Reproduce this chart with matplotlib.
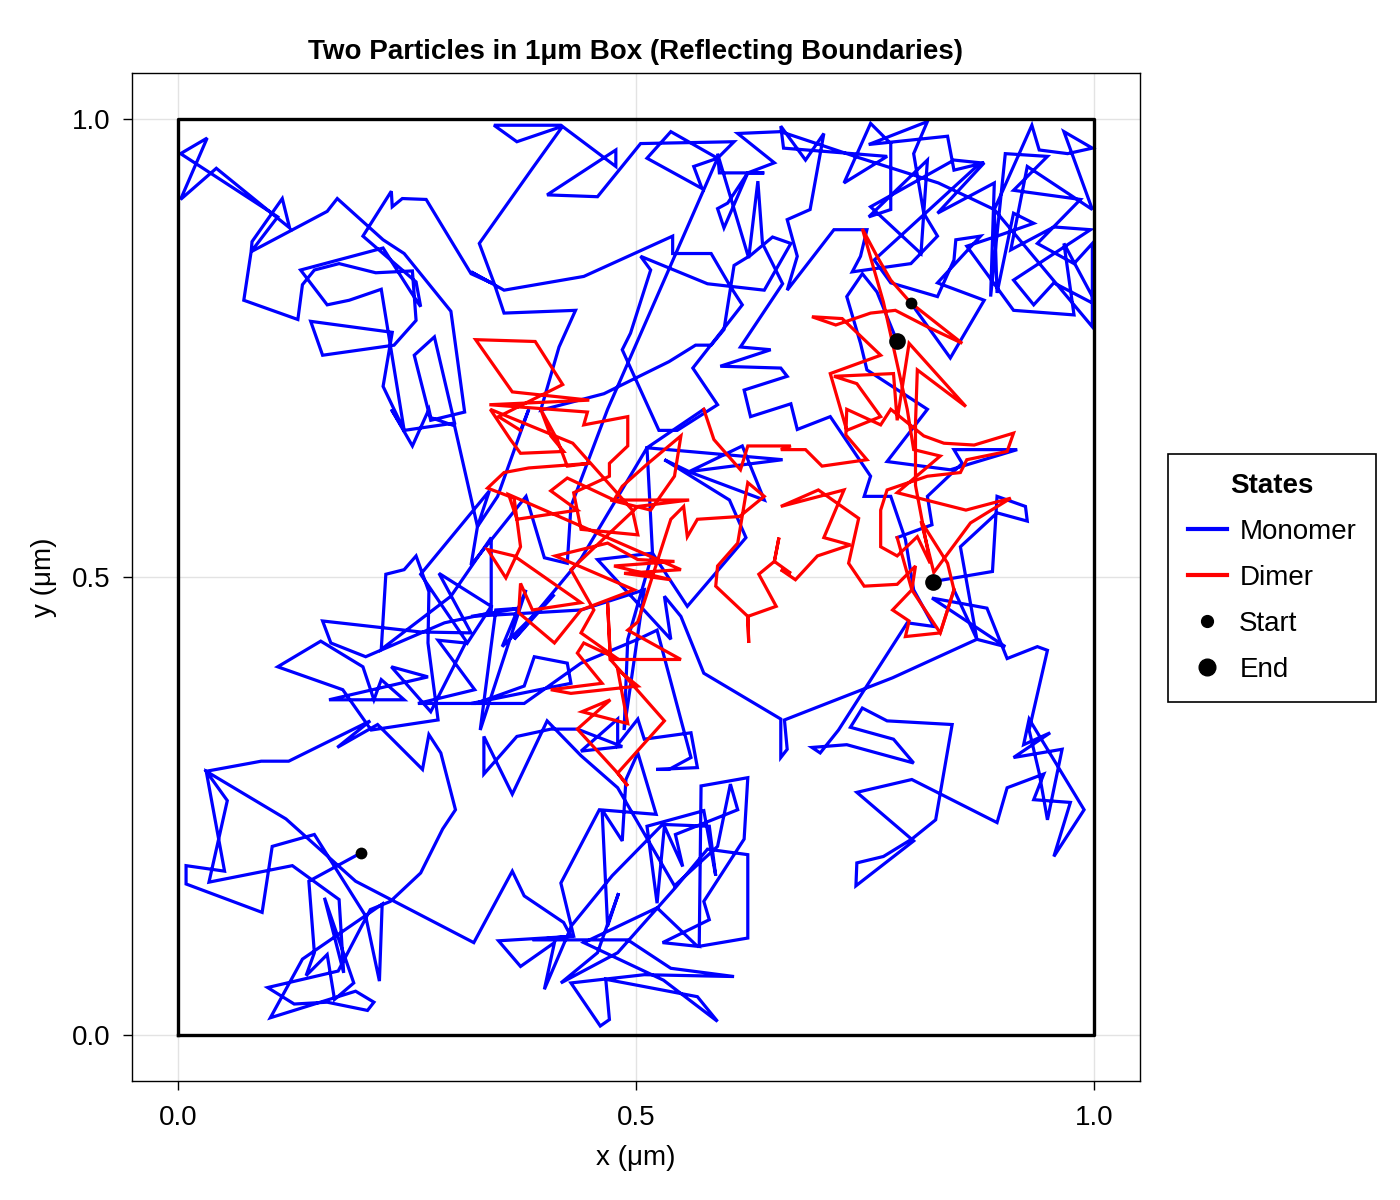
import matplotlib
matplotlib.use("Agg")
import matplotlib.pyplot as plt
from matplotlib.lines import Line2D

plt.rcParams['font.family'] = ['Liberation Sans', 'DejaVu Sans']

# ---------------- data (µm) ----------------
start_points = [(0.200, 0.199), (0.800, 0.799)]
end_points = [(0.824, 0.495), (0.785, 0.757)]

p1_monomer_a = [
    (0.200, 0.199), (0.143, 0.168), (0.149, 0.090), (0.140, 0.065), (0.163, 0.088), (0.171, 0.039),
    (0.192, 0.057), (0.160, 0.150), (0.181, 0.068), (0.176, 0.148), (0.125, 0.185), (0.034, 0.167),
    (0.054, 0.256), (0.031, 0.288), (0.091, 0.299), (0.121, 0.299), (0.210, 0.343), (0.174, 0.314),
    (0.218, 0.339), (0.267, 0.290), (0.274, 0.328), (0.287, 0.308), (0.303, 0.246), (0.289, 0.225),
    (0.265, 0.177), (0.232, 0.146), (0.210, 0.137), (0.175, 0.070), (0.098, 0.052), (0.127, 0.034),
    (0.163, 0.036), (0.207, 0.027), (0.214, 0.036), (0.194, 0.048), (0.101, 0.019), (0.136, 0.083),
    (0.223, 0.143), (0.220, 0.059), (0.205, 0.130), (0.149, 0.219), (0.103, 0.206), (0.092, 0.134),
    (0.009, 0.165), (0.009, 0.185), (0.051, 0.179), (0.031, 0.288), (0.118, 0.236), (0.194, 0.168),
    (0.323, 0.101), (0.365, 0.179), (0.378, 0.152), (0.421, 0.123), (0.429, 0.108), (0.387, 0.104),
    (0.491, 0.104), (0.538, 0.073), (0.607, 0.064), (0.509, 0.066), (0.429, 0.057), (0.461, 0.010),
    (0.471, 0.017), (0.467, 0.061), (0.567, 0.042), (0.589, 0.015), (0.530, 0.060), (0.443, 0.101),
    (0.523, 0.139), (0.567, 0.097), (0.529, 0.101), (0.580, 0.126), (0.574, 0.146), (0.618, 0.214),
    (0.622, 0.281), (0.571, 0.272), (0.569, 0.097), (0.622, 0.106), (0.622, 0.197), (0.578, 0.203),
    (0.543, 0.161), (0.480, 0.090), (0.418, 0.057), (0.458, 0.090), (0.481, 0.155), (0.469, 0.119),
    (0.463, 0.246), (0.485, 0.212), (0.489, 0.279), (0.502, 0.308), (0.522, 0.241), (0.460, 0.246),
    (0.418, 0.166), (0.432, 0.108), (0.350, 0.103), (0.374, 0.075), (0.411, 0.101), (0.400, 0.050),
    (0.430, 0.120), (0.474, 0.174), (0.529, 0.230), (0.580, 0.228), (0.587, 0.174), (0.574, 0.245),
    (0.512, 0.228), (0.523, 0.144), (0.531, 0.228), (0.551, 0.184), (0.543, 0.219), (0.611, 0.246),
    (0.603, 0.274), (0.589, 0.206), (0.542, 0.163), (0.480, 0.270), (0.440, 0.305), (0.403, 0.343),
    (0.365, 0.263), (0.334, 0.326), (0.334, 0.285), (0.370, 0.326), (0.407, 0.334), (0.436, 0.334),
    (0.485, 0.315), (0.440, 0.310), (0.480, 0.345), (0.480, 0.317), (0.502, 0.345), (0.509, 0.323),
    (0.560, 0.330), (0.567, 0.292), (0.522, 0.290), (0.536, 0.290), (0.560, 0.303), (0.523, 0.442),
    (0.502, 0.432), (0.440, 0.406), (0.378, 0.362), (0.320, 0.362), (0.429, 0.384), (0.425, 0.406),
    (0.389, 0.413), (0.378, 0.381), (0.325, 0.362), (0.262, 0.362), (0.324, 0.377), (0.284, 0.431),
    (0.314, 0.428), (0.276, 0.353), (0.233, 0.402), (0.273, 0.391), (0.165, 0.366), (0.247, 0.366),
    (0.222, 0.388), (0.214, 0.366), (0.202, 0.402), (0.156, 0.430), (0.109, 0.402), (0.180, 0.377),
    (0.211, 0.333), (0.284, 0.344), (0.273, 0.428), (0.274, 0.484), (0.260, 0.523), (0.247, 0.508),
    (0.227, 0.503), (0.222, 0.421), (0.298, 0.479), (0.342, 0.543), (0.342, 0.461), (0.291, 0.450),
    (0.205, 0.413), (0.167, 0.428), (0.158, 0.452), (0.265, 0.440), (0.320, 0.439), (0.285, 0.504),
    (0.342, 0.468), (0.316, 0.428), (0.265, 0.503), (0.340, 0.594), (0.327, 0.555), (0.302, 0.665),
    (0.276, 0.674), (0.274, 0.683), (0.256, 0.643), (0.233, 0.683), (0.247, 0.660), (0.224, 0.708),
    (0.234, 0.767), (0.145, 0.779), (0.158, 0.742), (0.236, 0.753), (0.260, 0.780), (0.256, 0.834),
    (0.216, 0.832), (0.176, 0.842), (0.149, 0.835), (0.136, 0.819), (0.131, 0.781), (0.072, 0.802),
    (0.080, 0.855), (0.081, 0.866), (0.114, 0.913), (0.122, 0.881), (0.042, 0.946), (0.003, 0.912),
    (0.032, 0.979), (0.003, 0.962), (0.109, 0.893), (0.080, 0.855), (0.163, 0.899), (0.174, 0.913),
    (0.224, 0.868), (0.247, 0.853), (0.298, 0.790), (0.313, 0.680), (0.276, 0.671), (0.258, 0.742),
    (0.280, 0.762), (0.302, 0.668), (0.247, 0.660), (0.222, 0.814), (0.187, 0.802), (0.163, 0.797),
    (0.134, 0.835), (0.224, 0.859), (0.255, 0.810), (0.265, 0.795), (0.260, 0.822), (0.202, 0.872),
    (0.233, 0.921), (0.234, 0.904), (0.245, 0.913), (0.271, 0.912), (0.320, 0.831), (0.342, 0.821),
    (0.320, 0.833), (0.356, 0.813), (0.443, 0.828), (0.540, 0.872), (0.540, 0.853), (0.582, 0.853),
    (0.603, 0.817), (0.616, 0.797), (0.562, 0.728), (0.589, 0.688), (0.545, 0.660), (0.525, 0.660),
    (0.485, 0.748), (0.494, 0.766), (0.516, 0.835), (0.505, 0.850), (0.578, 0.820), (0.640, 0.813),
    (0.669, 0.864), (0.649, 0.871), (0.625, 0.851), (0.607, 0.840), (0.596, 0.770), (0.582, 0.753),
    (0.565, 0.753), (0.536, 0.735), (0.465, 0.700), (0.396, 0.682), (0.416, 0.751), (0.434, 0.791),
    (0.356, 0.788), (0.345, 0.821), (0.329, 0.864), (0.387, 0.946), (0.420, 0.992), (0.370, 0.975),
    (0.345, 0.993), (0.418, 0.993), (0.478, 0.948), (0.478, 0.966), (0.403, 0.917), (0.458, 0.915),
    (0.505, 0.973), (0.607, 0.975), (0.589, 0.957), (0.563, 0.948), (0.572, 0.924), (0.512, 0.957),
    (0.538, 0.986), (0.589, 0.957), (0.469, 0.683), (0.429, 0.577), (0.425, 0.515), (0.400, 0.521),
    (0.380, 0.588), (0.320, 0.513), (0.327, 0.555), (0.349, 0.588), (0.383, 0.683), (0.374, 0.660),
]

p1_dimer = [
    (0.374, 0.660), (0.350, 0.675), (0.420, 0.710), (0.390, 0.757), (0.325, 0.759), (0.365, 0.702),
    (0.449, 0.693), (0.340, 0.688), (0.447, 0.680), (0.443, 0.666), (0.491, 0.675), (0.491, 0.643),
    (0.471, 0.624), (0.471, 0.610), (0.432, 0.592), (0.440, 0.552), (0.502, 0.546), (0.496, 0.573),
    (0.431, 0.646), (0.341, 0.683), (0.363, 0.650), (0.374, 0.635), (0.421, 0.637), (0.407, 0.654),
    (0.396, 0.683), (0.414, 0.650), (0.425, 0.621), (0.449, 0.624), (0.383, 0.619), (0.356, 0.614),
    (0.338, 0.597), (0.367, 0.586), (0.374, 0.533), (0.358, 0.499), (0.338, 0.530), (0.367, 0.523),
    (0.440, 0.472), (0.387, 0.464), (0.374, 0.493), (0.372, 0.461), (0.411, 0.428), (0.440, 0.464),
    (0.498, 0.486), (0.412, 0.523), (0.469, 0.537), (0.502, 0.519), (0.542, 0.517), (0.476, 0.512),
    (0.538, 0.497), (0.487, 0.504), (0.549, 0.508), (0.361, 0.590), (0.370, 0.563), (0.436, 0.573),
    (0.407, 0.594), (0.425, 0.608), (0.476, 0.584), (0.485, 0.599), (0.512, 0.623), (0.549, 0.654),
    (0.542, 0.610), (0.516, 0.573), (0.472, 0.584), (0.558, 0.584), (0.502, 0.577), (0.429, 0.508),
    (0.454, 0.464), (0.440, 0.439), (0.481, 0.410), (0.443, 0.428), (0.436, 0.417), (0.463, 0.384),
    (0.407, 0.377), (0.429, 0.373), (0.502, 0.381), (0.480, 0.399), (0.491, 0.340), (0.441, 0.353),
    (0.472, 0.366), (0.436, 0.334), (0.480, 0.286), (0.491, 0.272), (0.480, 0.286), (0.531, 0.343),
    (0.472, 0.410), (0.469, 0.472), (0.472, 0.410), (0.549, 0.410), (0.491, 0.442), (0.502, 0.451),
    (0.538, 0.563), (0.552, 0.577), (0.556, 0.544), (0.567, 0.563), (0.613, 0.566), (0.640, 0.588),
    (0.622, 0.603), (0.611, 0.537), (0.589, 0.512), (0.587, 0.490), (0.622, 0.457), (0.623, 0.428),
    (0.622, 0.457), (0.653, 0.468), (0.634, 0.503), (0.651, 0.517), (0.656, 0.543), (0.651, 0.517),
    (0.669, 0.504), (0.658, 0.508), (0.674, 0.497), (0.698, 0.523), (0.734, 0.535), (0.705, 0.543),
    (0.727, 0.595), (0.658, 0.577), (0.699, 0.595), (0.743, 0.564), (0.732, 0.515), (0.749, 0.490),
    (0.785, 0.492), (0.805, 0.512), (0.801, 0.486), (0.780, 0.464), (0.798, 0.452), (0.794, 0.435),
    (0.832, 0.439), (0.847, 0.486),
]

p1_monomer_b = [
    (0.847, 0.486), (0.872, 0.432), (0.854, 0.533), (0.894, 0.570), (0.927, 0.561), (0.925, 0.577),
    (0.894, 0.588), (0.889, 0.506), (0.824, 0.495),
]

p2_monomer_a = [
    (0.800, 0.799), (0.843, 0.739), (0.880, 0.802), (0.829, 0.821), (0.876, 0.872), (0.849, 0.868),
    (0.847, 0.846), (0.829, 0.806), (0.778, 0.821), (0.760, 0.846), (0.876, 0.952), (0.847, 0.955),
    (0.756, 0.904), (0.811, 0.853), (0.818, 0.955), (0.754, 0.893), (0.778, 0.901), (0.778, 0.973),
    (0.756, 0.995), (0.727, 0.930), (0.774, 0.959), (0.661, 0.968), (0.658, 0.992), (0.685, 0.955),
    (0.705, 0.984), (0.690, 0.901), (0.665, 0.890), (0.676, 0.850), (0.665, 0.813), (0.716, 0.879),
    (0.752, 0.879), (0.745, 0.850), (0.736, 0.833), (0.800, 0.842), (0.829, 0.872), (0.814, 0.897),
    (0.803, 0.962), (0.818, 0.997), (0.754, 0.972), (0.840, 0.981), (0.847, 0.944), (0.880, 0.952),
    (0.829, 0.897), (0.891, 0.930), (0.887, 0.806), (0.903, 0.962), (0.949, 0.959), (0.912, 0.922),
    (0.985, 0.912), (0.938, 0.864), (0.978, 0.842), (0.998, 0.864), (0.998, 0.799), (0.956, 0.821),
    (0.934, 0.797), (0.912, 0.824), (0.996, 0.879), (0.956, 0.882), (0.909, 0.857), (0.927, 0.948),
    (0.998, 0.901), (0.967, 0.986), (0.998, 0.968), (0.971, 0.962), (0.940, 0.966), (0.932, 0.993),
    (0.891, 0.901), (0.998, 0.773), (0.998, 0.806), (0.967, 0.864), (0.978, 0.786), (0.912, 0.791),
    (0.861, 0.861), (0.894, 0.872), (0.934, 0.886), (0.912, 0.897), (0.894, 0.810), (0.891, 0.901),
    (0.830, 0.930), (0.742, 0.958), (0.658, 0.986), (0.611, 0.984), (0.651, 0.952), (0.622, 0.941),
    (0.596, 0.881), (0.589, 0.902), (0.600, 0.908), (0.622, 0.941), (0.640, 0.941), (0.591, 0.941),
    (0.589, 0.962), (0.623, 0.848), (0.633, 0.932), (0.638, 0.864), (0.660, 0.820), (0.614, 0.751),
    (0.647, 0.748), (0.592, 0.730), (0.658, 0.728), (0.665, 0.719), (0.618, 0.704), (0.625, 0.675),
    (0.669, 0.689), (0.676, 0.661), (0.712, 0.675), (0.756, 0.610), (0.749, 0.588), (0.778, 0.588),
    (0.794, 0.541), (0.803, 0.486), (0.825, 0.446), (0.796, 0.450), (0.721, 0.333), (0.701, 0.308),
    (0.692, 0.314), (0.730, 0.317), (0.803, 0.297), (0.781, 0.323), (0.734, 0.336), (0.747, 0.357),
    (0.774, 0.343), (0.845, 0.339), (0.827, 0.235), (0.801, 0.214), (0.770, 0.195), (0.741, 0.188),
    (0.740, 0.163), (0.803, 0.212), (0.741, 0.265), (0.801, 0.279), (0.894, 0.232), (0.905, 0.270),
    (0.945, 0.285), (0.934, 0.257), (0.974, 0.254), (0.956, 0.195), (0.989, 0.246), (0.929, 0.345),
    (0.923, 0.317), (0.952, 0.330), (0.912, 0.303), (0.965, 0.312), (0.949, 0.235), (0.940, 0.286),
    (0.929, 0.333), (0.949, 0.420), (0.938, 0.424), (0.905, 0.411), (0.883, 0.466), (0.823, 0.477),
    (0.903, 0.424), (0.872, 0.432), (0.780, 0.390), (0.662, 0.344), (0.665, 0.312), (0.658, 0.303),
    (0.658, 0.345), (0.574, 0.395), (0.549, 0.457), (0.531, 0.479), (0.538, 0.432), (0.458, 0.519),
    (0.518, 0.526), (0.556, 0.468), (0.620, 0.543), (0.602, 0.584), (0.531, 0.628), (0.560, 0.614),
    (0.640, 0.584), (0.616, 0.643), (0.558, 0.615), (0.660, 0.628), (0.512, 0.641), (0.518, 0.526),
    (0.491, 0.432), (0.487, 0.333), (0.509, 0.486), (0.440, 0.464), (0.320, 0.457), (0.374, 0.466),
    (0.347, 0.464), (0.330, 0.333), (0.380, 0.486), (0.354, 0.424), (0.411, 0.481), (0.367, 0.432),
    (0.440, 0.520), (0.512, 0.641), (0.574, 0.683),
]

p2_dimer = [
    (0.574, 0.683), (0.585, 0.650), (0.614, 0.617), (0.622, 0.643), (0.669, 0.643), (0.658, 0.639),
    (0.685, 0.639), (0.703, 0.621), (0.752, 0.628), (0.729, 0.655), (0.730, 0.683), (0.767, 0.666),
    (0.778, 0.683), (0.814, 0.654), (0.836, 0.646), (0.869, 0.644), (0.912, 0.657), (0.905, 0.637),
    (0.861, 0.628), (0.854, 0.614), (0.818, 0.610), (0.774, 0.595), (0.767, 0.573), (0.767, 0.533),
    (0.785, 0.523), (0.807, 0.544), (0.821, 0.515), (0.805, 0.600), (0.805, 0.668), (0.807, 0.726),
    (0.860, 0.686), (0.798, 0.755), (0.785, 0.671), (0.781, 0.722), (0.716, 0.719), (0.741, 0.711),
    (0.767, 0.675), (0.730, 0.660), (0.712, 0.722), (0.767, 0.742), (0.725, 0.782), (0.692, 0.784),
    (0.718, 0.775), (0.756, 0.788), (0.783, 0.791), (0.818, 0.773), (0.856, 0.755), (0.800, 0.799),
    (0.778, 0.824), (0.763, 0.850), (0.747, 0.880), (0.770, 0.800), (0.796, 0.683), (0.803, 0.639),
    (0.832, 0.632), (0.785, 0.592), (0.860, 0.573), (0.909, 0.586), (0.865, 0.559), (0.825, 0.505),
    (0.811, 0.561), (0.840, 0.515), (0.847, 0.486), (0.832, 0.439), (0.801, 0.486), (0.785, 0.543),
]

p2_monomer_b = [
    (0.785, 0.543), (0.823, 0.557), (0.818, 0.588), (0.856, 0.624), (0.847, 0.639), (0.916, 0.639),
    (0.843, 0.617), (0.774, 0.626), (0.818, 0.683), (0.752, 0.726), (0.745, 0.755), (0.730, 0.806),
    (0.747, 0.831), (0.763, 0.811), (0.785, 0.757),
]

monomer_paths = [p1_monomer_a, p1_monomer_b, p2_monomer_a, p2_monomer_b]
dimer_paths = [p1_dimer, p2_dimer]

title = "Two Particles in 1μm Box (Reflecting Boundaries)"
xlabel = "x (μm)"
ylabel = "y (μm)"
ticks = [0.0, 0.5, 1.0]
tick_labels = ["0.0", "0.5", "1.0"]
legend_title = "States"
legend_labels = ["Monomer", "Dimer", "Start", "End"]

# ---------------- figure ----------------
fig = plt.figure(figsize=(14, 12), dpi=100)
ax = fig.add_axes([132 / 1400, 1 - 1081 / 1200, 1008 / 1400, 1008 / 1200])
ax.set_xlim(-0.05, 1.05)
ax.set_ylim(-0.05, 1.05)

ax.grid(True, color="#e3e3e3", linewidth=1.0, zorder=0)
ax.set_axisbelow(True)

blue = "#0000ff"
red = "#ff0000"
lw = 2.3
for path in monomer_paths:
    xs = [p[0] for p in path]
    ys = [p[1] for p in path]
    ax.plot(xs, ys, color=blue, lw=lw, solid_joinstyle="miter", zorder=2)
for path in dimer_paths:
    xs = [p[0] for p in path]
    ys = [p[1] for p in path]
    ax.plot(xs, ys, color=red, lw=lw, solid_joinstyle="miter", zorder=3)

# box
ax.plot([0, 1, 1, 0, 0], [0, 0, 1, 1, 0], color="black", lw=2.4, zorder=4)

ax.plot([p[0] for p in start_points], [p[1] for p in start_points], "o", color="black",
        markersize=8.5, markeredgewidth=0, zorder=5)
ax.plot([p[0] for p in end_points], [p[1] for p in end_points], "o", color="black",
        markersize=12, markeredgewidth=0, zorder=5)

ax.set_xticks(ticks)
ax.set_xticklabels(tick_labels)
ax.set_yticks(ticks)
ax.set_yticklabels(tick_labels)
ax.tick_params(labelsize=20, length=6.5, width=1, color="black")
ax.tick_params(axis="x", pad=11)
ax.tick_params(axis="y", pad=9)
for s in ax.spines.values():
    s.set_linewidth(1.0)
    s.set_color("black")

ax.set_title(title, fontsize=20, fontweight="bold", pad=10)
ax.set_xlabel(xlabel, fontsize=20, labelpad=10)
ax.set_ylabel(ylabel, fontsize=20, labelpad=11)

handles = [
    Line2D([0], [0], color=blue, lw=3),
    Line2D([0], [0], color=red, lw=3),
    Line2D([0], [0], marker="o", color="black", lw=0, markersize=8.5),
    Line2D([0], [0], marker="o", color="black", lw=0, markersize=12),
]
leg = fig.legend(handles, legend_labels, title=legend_title, loc="center",
                 bbox_to_anchor=((1176 + 1368) / 2 / 1400, 1 - (452 + 704) / 2 / 1200),
                 fontsize=20, title_fontproperties={"weight": "bold", "size": 20},
                 frameon=True, fancybox=False, edgecolor="black", framealpha=1,
                 handlelength=1.4, handletextpad=0.45, labelspacing=0.72, borderpad=0.7,
                 borderaxespad=0)
leg.get_frame().set_linewidth(1.2)

fig.savefig("out.png", dpi=100)
